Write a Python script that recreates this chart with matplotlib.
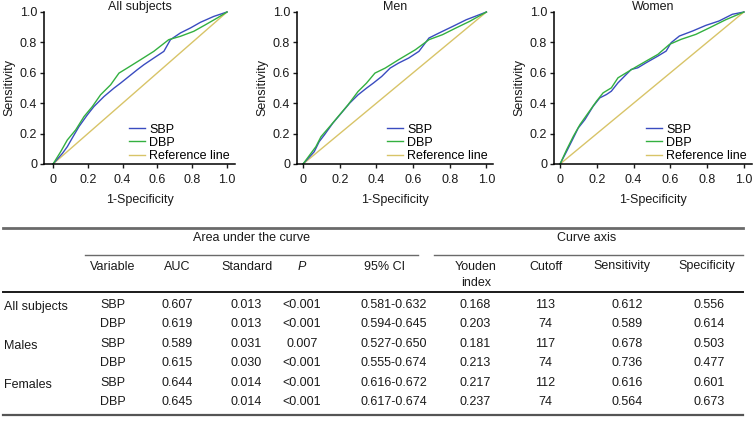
import numpy as np
import matplotlib.pyplot as plt
from matplotlib.lines import Line2D

plt.rcParams['font.family'] = ['Liberation Sans', 'DejaVu Sans']
plt.rcParams['font.size'] = 9

W, H = 753, 445
FS = 9

# --- curve data ---
all_sbp_x = [0, 0.054, 0.082, 0.11, 0.149, 0.197, 0.235, 0.293, 0.35, 0.388, 0.436, 0.484, 0.522, 0.579, 0.637, 0.675, 0.732, 0.79, 0.847, 0.924, 1]
all_sbp_y = [0, 0.07, 0.114, 0.17, 0.246, 0.323, 0.378, 0.444, 0.499, 0.532, 0.576, 0.62, 0.653, 0.697, 0.741, 0.818, 0.862, 0.895, 0.932, 0.971, 1]
all_dbp_x = [0, 0.044, 0.082, 0.13, 0.178, 0.226, 0.273, 0.331, 0.379, 0.426, 0.503, 0.579, 0.665, 0.732, 0.809, 0.876, 0.943, 1]
all_dbp_y = [0, 0.081, 0.158, 0.224, 0.312, 0.378, 0.455, 0.521, 0.598, 0.631, 0.686, 0.741, 0.818, 0.84, 0.873, 0.916, 0.96, 1]

men_sbp_x = [0, 0.061, 0.088, 0.116, 0.162, 0.208, 0.254, 0.3, 0.346, 0.383, 0.429, 0.475, 0.521, 0.576, 0.632, 0.687, 0.742, 0.816, 0.89, 1]
men_sbp_y = [0, 0.081, 0.147, 0.191, 0.268, 0.334, 0.4, 0.455, 0.499, 0.532, 0.576, 0.631, 0.664, 0.697, 0.741, 0.829, 0.862, 0.905, 0.949, 1]
men_dbp_x = [0, 0.07, 0.098, 0.153, 0.199, 0.245, 0.3, 0.346, 0.392, 0.448, 0.521, 0.613, 0.687, 0.761, 0.834, 0.908, 1]
men_dbp_y = [0, 0.114, 0.18, 0.257, 0.323, 0.389, 0.477, 0.532, 0.598, 0.631, 0.686, 0.752, 0.818, 0.851, 0.895, 0.938, 1]

women_sbp_x = [0, 0.036, 0.063, 0.099, 0.135, 0.18, 0.216, 0.252, 0.279, 0.315, 0.351, 0.387, 0.423, 0.468, 0.532, 0.577, 0.604, 0.649, 0.721, 0.793, 0.865, 0.937, 1]
women_sbp_y = [0, 0.084, 0.149, 0.237, 0.292, 0.38, 0.435, 0.457, 0.479, 0.534, 0.578, 0.622, 0.633, 0.666, 0.71, 0.743, 0.798, 0.842, 0.875, 0.912, 0.941, 0.985, 1]
women_dbp_x = [0, 0.036, 0.072, 0.108, 0.153, 0.198, 0.234, 0.279, 0.315, 0.36, 0.405, 0.468, 0.532, 0.595, 0.658, 0.739, 0.811, 0.901, 1]
women_dbp_y = [0, 0.095, 0.182, 0.259, 0.336, 0.413, 0.468, 0.501, 0.567, 0.6, 0.633, 0.677, 0.721, 0.787, 0.82, 0.853, 0.895, 0.949, 1]

titles = ['All subjects', 'Men', 'Women']
curves = [(all_sbp_x, all_sbp_y, all_dbp_x, all_dbp_y),
          (men_sbp_x, men_sbp_y, men_dbp_x, men_dbp_y),
          (women_sbp_x, women_sbp_y, women_dbp_x, women_dbp_y)]

# --- table data ---
groups = ['All subjects', '', 'Males', '', 'Females', '']
variables = ['SBP', 'DBP', 'SBP', 'DBP', 'SBP', 'DBP']
auc = ['0.607', '0.619', '0.589', '0.615', '0.644', '0.645']
standard = ['0.013', '0.013', '0.031', '0.030', '0.014', '0.014']
p_vals = ['<0.001', '<0.001', '0.007', '<0.001', '<0.001', '<0.001']
ci95 = ['0.581-0.632', '0.594-0.645', '0.527-0.650', '0.555-0.674', '0.616-0.672', '0.617-0.674']
youden = ['0.168', '0.203', '0.181', '0.213', '0.217', '0.237']
cutoff = ['113', '74', '117', '74', '112', '74']
sens = ['0.612', '0.589', '0.678', '0.736', '0.616', '0.564']
spec = ['0.556', '0.614', '0.503', '0.477', '0.601', '0.673']

c_sbp = '#3a4cc0'
c_dbp = '#33b040'
c_ref = '#d8c468'
txt = '#1a1a1a'

fig = plt.figure(figsize=(W / 100, H / 100), dpi=100)

# axes boxes in pixels: left spine, right end, xlim
boxes = [(44, 235, -0.052, 1.046), (297, 493, -0.033, 1.036), (554, 752, -0.033, 1.044)]
top_px, bot_px = 12, 164

for i, (l, r, x0, x1) in enumerate(boxes):
    ax = fig.add_axes([l / W, 1 - bot_px / H, (r - l) / W, (bot_px - top_px) / H])
    sx, sy, dx, dy = curves[i]
    ax.plot(sx, sy, color=c_sbp, lw=1, label='SBP', clip_on=False)
    ax.plot(dx, dy, color=c_dbp, lw=1, label='DBP', clip_on=False)
    ax.plot([0, 1], [0, 1], color=c_ref, lw=1, label='Reference line', clip_on=False, zorder=1)
    ax.set_xlim(x0, x1)
    ax.set_ylim(0, 1)
    ticks = [0, 0.2, 0.4, 0.6, 0.8, 1.0]
    lbls = ['0', '0.2', '0.4', '0.6', '0.8', '1.0']
    ax.set_xticks(ticks, lbls)
    ax.set_yticks(ticks, lbls)
    ax.tick_params(length=3, width=1, pad=2, labelsize=FS, colors=txt)
    ax.tick_params(axis='x', pad=4)
    for s in ['top', 'right']:
        ax.spines[s].set_visible(False)
    for s in ['left', 'bottom']:
        ax.spines[s].set_linewidth(1.1)
    ax.set_xlabel('1-Specificity', fontsize=FS, color=txt, labelpad=6)
    ax.set_ylabel('Sensitivity', fontsize=FS, color=txt, labelpad=3)
    ax.set_title(titles[i], fontsize=FS, color=txt, pad=-1, y=1.0, va='bottom')
    ax.legend(loc='lower right', bbox_to_anchor=(1.0, -0.02), frameon=False,
              handlelength=1.3, handletextpad=0.35, labelspacing=0.1,
              borderaxespad=0, fontsize=FS)


def fx(px):
    return px / W


def fy(py):
    return 1 - py / H


def hline(x0, x1, y, lw, color):
    fig.add_artist(Line2D([fx(x0), fx(x1)], [fy(y), fy(y)], lw=lw, color=color))


def put(x, y, s, ha='center', style='normal'):
    fig.text(fx(x), fy(y), s, ha=ha, va='center', fontsize=FS, color=txt, style=style)


# table rules
hline(3, 743, 227.5, 2.0, '#6a6a6a')
hline(85, 418, 254.5, 1.0, '#6a6a6a')
hline(434, 743, 254.5, 1.0, '#6a6a6a')
hline(3, 743, 292, 1.4, '#1a1a1a')
hline(3, 743, 415, 1.6, '#555555')

put(252, 238, 'Area under the curve')
put(587, 238, 'Curve axis')

hy = 266.5
put(113, hy, 'Variable')
put(177, hy, 'AUC')
put(247, hy, 'Standard')
put(302, hy, 'P', style='italic')
put(384, hy, '95% CI')
put(476, hy, 'Youden')
put(476, hy + 16, 'index')
put(546, hy, 'Cutoff')
put(622, hy, 'Sensitivity')
put(707, hy, 'Specificity')

cols = [(113, variables), (177, auc), (246, standard), (302, p_vals), (394, ci95),
        (475, youden), (545, cutoff), (627, sens), (709, spec)]
for r in range(len(variables)):
    y = 305 + 19.4 * r
    if groups[r]:
        put(4, y + 2, groups[r], ha='left')
    for cx, vals in cols:
        put(cx, y, vals[r])

fig.savefig('out.png', dpi=100)
